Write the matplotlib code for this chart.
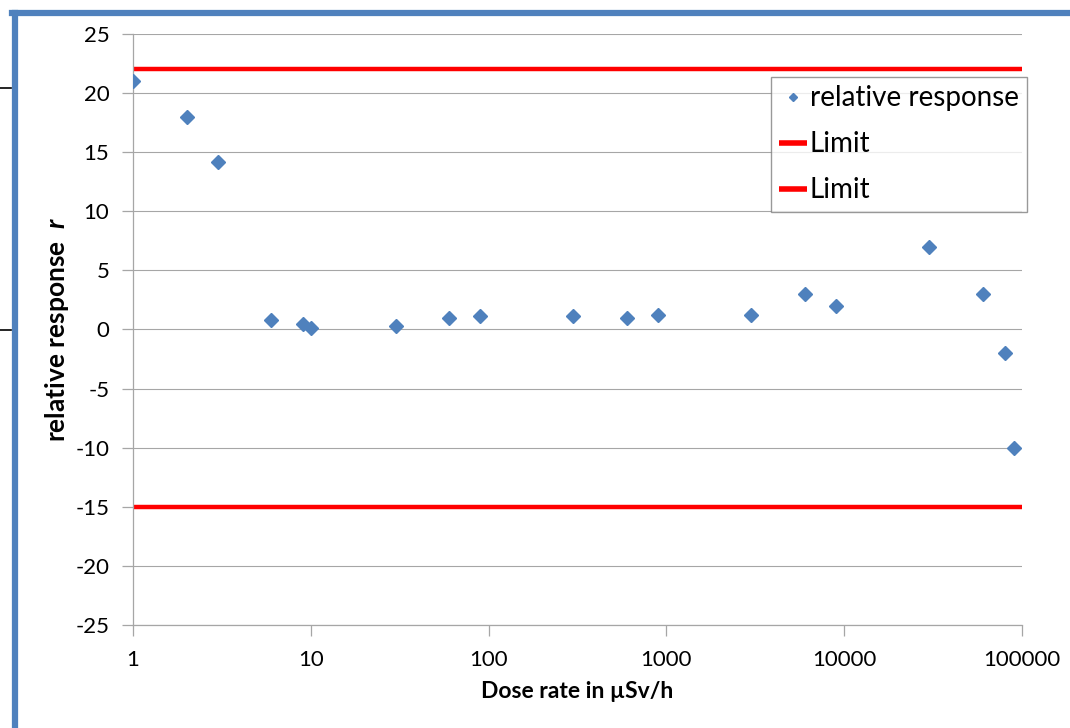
import matplotlib
matplotlib.use("Agg")
import matplotlib.pyplot as plt
from matplotlib.lines import Line2D

plt.rcParams['font.family'] = ['Lato', 'DejaVu Sans']
plt.rcParams['mathtext.fontset'] = 'custom'
plt.rcParams['mathtext.rm'] = 'Lato'
plt.rcParams['mathtext.it'] = 'Lato:italic'
plt.rcParams['mathtext.bf'] = 'Lato:bold'
plt.rcParams['mathtext.bfit'] = 'Lato:italic:bold'

dose_rate = [1, 2, 3, 6, 9, 10, 30, 60, 90, 300, 600, 900, 3000, 6000, 9000, 30000, 60000, 80000, 90000]
rel_response = [21.0, 18.0, 14.2, 0.8, 0.5, 0.1, 0.3, 1.0, 1.1, 1.1, 1.0, 1.2, 1.2, 3.0, 2.0, 7.0, 3.0, -2.0, -10.0]
limit_x = [1, 100000]
upper_limit = [22, 22]
lower_limit = [-15, -15]
x_ticks = [1, 10, 100, 1000, 10000, 100000]
x_tick_labels = ['1', '10', '100', '1000', '10000', '100000']
y_ticks = list(range(-25, 26, 5))

fig = plt.figure(figsize=(10.70, 7.28), dpi=100)
ax = fig.add_axes([0.1243, 0.1415, 0.9551 - 0.1243, 0.9533 - 0.1415])

ax.plot(dose_rate, rel_response, linestyle='none', marker='D', markersize=7,
        color='#4F81BD', label='relative response', zorder=3)
ax.plot(limit_x, upper_limit, color='#FF0000', linewidth=3.2, label='Limit',
        solid_capstyle='butt', zorder=2)
ax.plot(limit_x, lower_limit, color='#FF0000', linewidth=3.2, label='Limit',
        solid_capstyle='butt', zorder=2)

ax.set_xscale('log')
ax.set_xlim(1, 100000)
ax.set_ylim(-25, 25)
ax.set_xticks(x_ticks)
ax.set_xticklabels(x_tick_labels)
ax.minorticks_off()
ax.set_yticks(y_ticks)
ax.set_yticklabels([str(v) for v in y_ticks])

ax.grid(axis='y', color='#A6A6A6', linewidth=0.8)
ax.set_axisbelow(True)
for s in ['top', 'right']:
    ax.spines[s].set_visible(False)
for s in ['left', 'bottom']:
    ax.spines[s].set_color('#A6A6A6')
    ax.spines[s].set_linewidth(0.9)
ax.tick_params(axis='both', colors='#A6A6A6', labelcolor='black', labelsize=16,
               length=8, width=0.9)
ax.tick_params(axis='y', pad=9)
ax.tick_params(axis='x', pad=10)

ax.set_xlabel('Dose rate in µSv/h', fontsize=16.5, fontweight='bold', labelpad=8)
ax.set_ylabel('relative response  $\\mathbfit{r}$', fontsize=19, fontweight='bold', labelpad=3)

leg = ax.legend(loc='upper right', bbox_to_anchor=(1027 / 1070, 1 - 77 / 728),
                bbox_transform=fig.transFigure, fontsize=20, frameon=True,
                fancybox=False, edgecolor='#808080', handlelength=1.0,
                handletextpad=0.1, borderpad=0.3, labelspacing=0.72,
                borderaxespad=0, markerscale=0.6)
leg.get_frame().set_linewidth(1.0)
for h in leg.get_lines():
    if h.get_label() == 'Limit' or h.get_linestyle() == '-':
        h.set_linewidth(4.0)

# surrounding screenshot frame
fig.add_artist(Line2D([15 / 1070, 15 / 1070], [0, 1 - 13 / 728], color='#4F81BD',
                      linewidth=4.5, transform=fig.transFigure))
fig.add_artist(Line2D([12 / 1070, 1], [1 - 13 / 728, 1 - 13 / 728], color='#4F81BD',
                      linewidth=4.5, transform=fig.transFigure))
fig.add_artist(Line2D([0, 11 / 1070], [1 - 88 / 728, 1 - 88 / 728], color='black',
                      linewidth=1.2, transform=fig.transFigure))
fig.add_artist(Line2D([0, 11 / 1070], [1 - 330 / 728, 1 - 330 / 728], color='black',
                      linewidth=1.2, transform=fig.transFigure))

fig.savefig('out.png', dpi=100)
